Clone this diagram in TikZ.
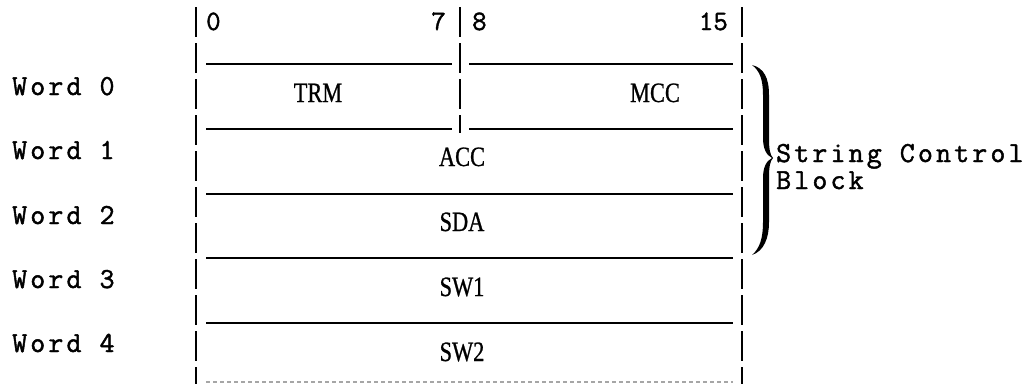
\documentclass[tikz,border=0pt]{standalone}
\usepackage{fontspec}
\newfontfamily\tw[FakeBold=1.6,LetterSpace=11]{Latin Modern Mono}
\newfontfamily\tn[FakeBold=1.6]{Latin Modern Mono}
\newfontfamily\rs[FakeStretch=0.8,FakeBold=0.8]{Liberation Serif}
\begin{document}
\begin{tikzpicture}[x=1pt,y=-1pt,
  vline/.style={line width=2.4pt, dash pattern=on 30pt off 6pt},
  hline/.style={line width=1.8pt},
  botline/.style={line width=1.2pt, black!35, dash pattern=on 4pt off 3pt},
  lab/.style={font=\tw\fontsize{29}{30}\selectfont, inner sep=0pt},
  num/.style={font=\tn\fontsize{28}{32}\selectfont, inner sep=0pt},
  fld/.style={font=\rs\fontsize{28}{32}\selectfont, inner sep=0pt}]
\useasboundingbox (0,0) rectangle (1034,384);
% vertical lines
\coordinate (lt) at (196,7);  \coordinate (lb) at (196,384);
\coordinate (mt) at (460,7);  \coordinate (mb) at (460,133);
\coordinate (rt) at (742,7);  \coordinate (rb) at (742,384);
\draw[vline] (lt) -- (lb);
\draw[vline] (mt) -- (mb);
\draw[vline] (rt) -- (rb);
% horizontal lines
\foreach \y in {64,129} {
  \draw[hline] (206,\y) -- (452,\y);
  \draw[hline] (469,\y) -- (733,\y);
}
\foreach \y in {194,258,323} {
  \draw[hline] (206,\y) -- (733,\y);
}
\draw[botline] (206,382) -- (733,382);
% bit numbers
\node[num, anchor=base west] (b0) at (206,30) {0};
\node[num, anchor=base east] (b7) at (446,30) {7};
\node[num, anchor=base west] (b8) at (472,30) {8};
\node[num, anchor=base east] (b15) at (728,30) {15};
% word labels
\node[lab, anchor=base west] (w0) at (12,95) {Word 0};
\node[lab, anchor=base west] (w1) at (12,159) {Word 1};
\node[lab, anchor=base west] (w2) at (12,224) {Word 2};
\node[lab, anchor=base west] (w3) at (12,288) {Word 3};
\node[lab, anchor=base west] (w4) at (12,352) {Word 4};
% fields
\node[fld, anchor=base] (trm) at (318,102) {TRM};
\node[fld, anchor=base] (mcc) at (655,102) {MCC};
\node[fld, anchor=base] (acc) at (462,166) {ACC};
\node[fld, anchor=base] (sda) at (462,231) {SDA};
\node[fld, anchor=base] (sw1) at (462,296) {SW1};
\node[fld, anchor=base] (sw2) at (462,361) {SW2};
% brace (filled, typeset look)
\fill (752,65) .. controls (764,68) and (769,78) .. (769,95) -- (769,138)
  .. controls (769,149) and (770,155) .. (773,158)
  .. controls (770,161) and (769,167) .. (769,178) -- (769,222)
  .. controls (769,238) and (764,251) .. (752,255)
  .. controls (760,248) and (763,238) .. (763,222) -- (763,178)
  .. controls (763,168) and (766,161) .. (772,158)
  .. controls (766,155) and (763,148) .. (763,138) -- (763,95)
  .. controls (763,80) and (760,71) .. (752,65) -- cycle;
\node[lab, anchor=base west] (scb1) at (776,162) {String Control};
\node[lab, anchor=base west] (scb2) at (776,189) {Block};
\end{tikzpicture}
\end{document}
